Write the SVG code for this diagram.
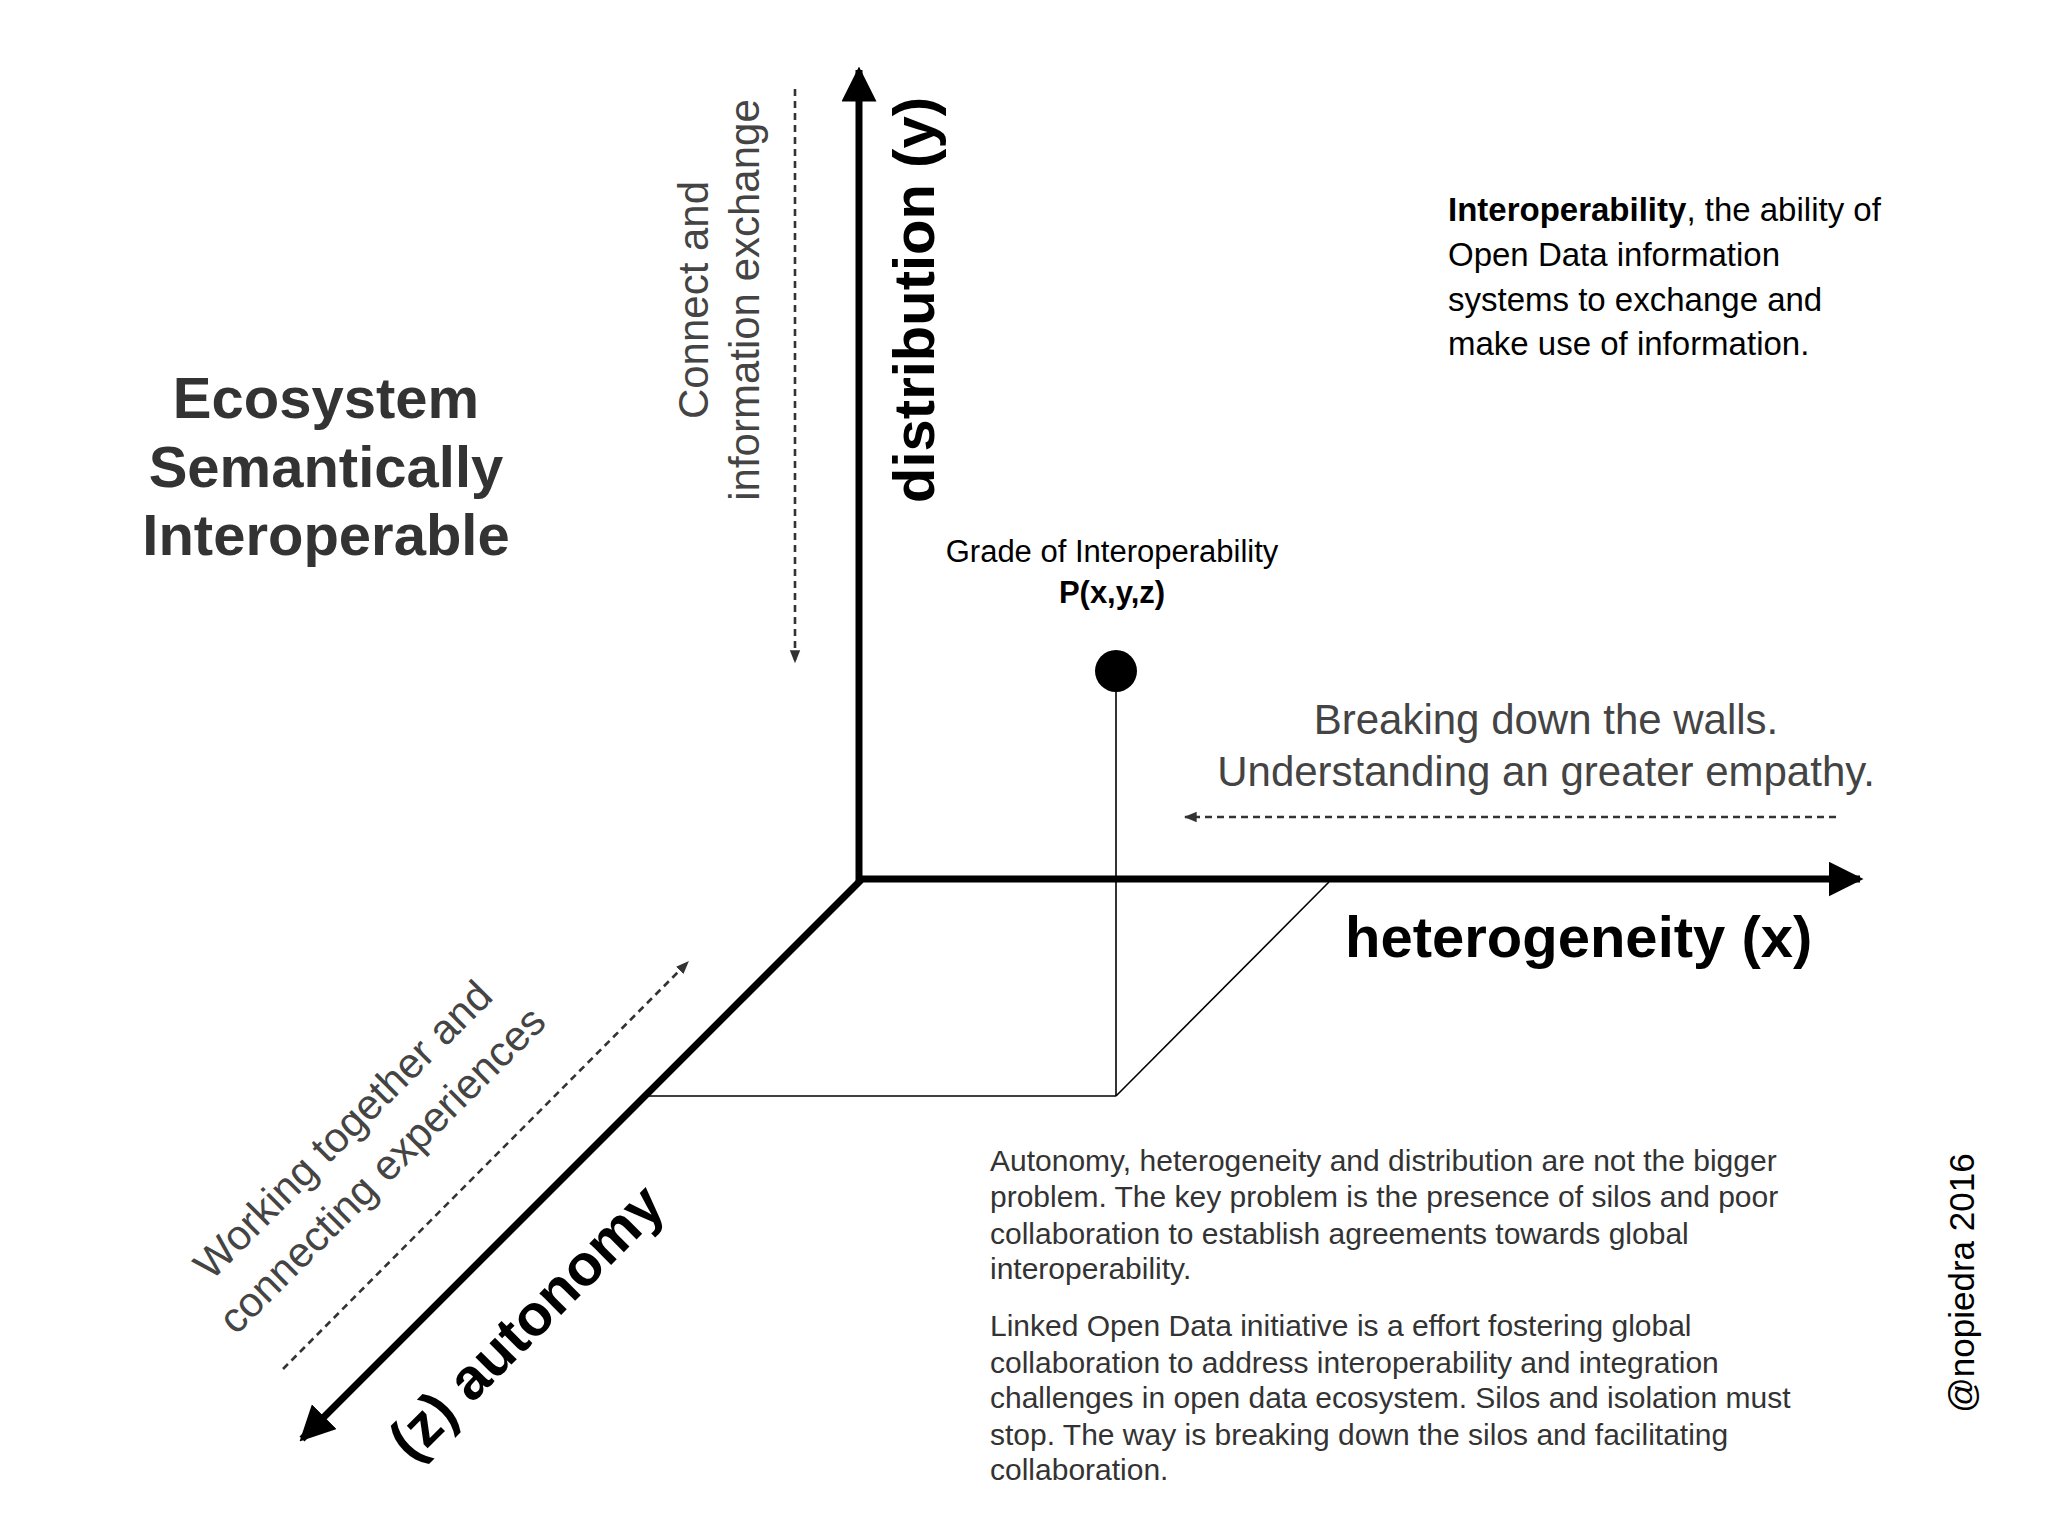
<svg xmlns="http://www.w3.org/2000/svg" width="2048" height="1536" viewBox="0 0 2048 1536">
<style>
text{font-family:"Liberation Sans",Arial,sans-serif}
.axis{stroke:#000;stroke-width:7;fill:none}
.thin{stroke:#000;stroke-width:1.6;fill:none}
.dash{stroke:#333;stroke-width:2.6;fill:none;stroke-dasharray:7 5}
.big{font-size:58px;font-weight:bold;fill:#000}
.note{font-size:42px;fill:#444}
.para{font-size:30px;fill:#333}
</style>
<defs>
<marker id="ah" viewBox="0 0 10 10" refX="9" refY="5" markerWidth="5" markerHeight="5" orient="auto" markerUnits="strokeWidth"><path d="M0,0 L10,5 L0,10 z" fill="#000"/></marker>
<marker id="dh" viewBox="0 0 10 10" refX="9" refY="5" markerWidth="5" markerHeight="5" orient="auto" markerUnits="strokeWidth"><path d="M0,1 L10,5 L0,9 z" fill="#333"/></marker>
</defs>
<g id="connectors">
<line class="axis" x1="859" y1="882" x2="859" y2="70" marker-end="url(#ah)"/>
<line class="axis" x1="856" y1="879" x2="1860" y2="879" marker-end="url(#ah)"/>
<line class="axis" x1="861" y1="880" x2="302" y2="1439" marker-end="url(#ah)"/>
<line class="thin" x1="1116" y1="671" x2="1116" y2="1096"/>
<line class="thin" x1="1116" y1="1096" x2="1329" y2="882"/>
<line class="thin" x1="1116" y1="1096" x2="645" y2="1096"/>
<line class="dash" x1="795" y1="89" x2="795" y2="662" marker-end="url(#dh)"/>
<line class="dash" x1="1836" y1="817" x2="1185" y2="817" marker-end="url(#dh)"/>
<line class="dash" x1="283" y1="1369" x2="688" y2="962" marker-end="url(#dh)"/>
</g>
<g id="point">
<circle cx="1116" cy="671" r="21" fill="#000"/>
<text x="1112" y="562" font-size="31" text-anchor="middle" fill="#000">Grade of Interoperability</text>
<text x="1112" y="603" font-size="31" font-weight="bold" text-anchor="middle" fill="#000">P(x,y,z)</text>
</g>
<g id="title">
<text font-size="58" font-weight="bold" fill="#333" text-anchor="middle"><tspan x="326" y="418">Ecosystem</tspan><tspan x="326" y="487">Semantically</tspan><tspan x="326" y="555">Interoperable</tspan></text>
</g>
<g id="y-label">
<text class="big" transform="translate(934,300) rotate(-90)" text-anchor="middle">distribution (y)</text>
<text class="note" transform="translate(708,300) rotate(-90)" text-anchor="middle">Connect and</text>
<text class="note" transform="translate(759,300) rotate(-90)" text-anchor="middle">information exchange</text>
</g>
<g id="x-label">
<text class="big" x="1345" y="957">heterogeneity (x)</text>
<text class="note" x="1546" y="734" text-anchor="middle">Breaking down the walls.</text>
<text class="note" x="1546" y="786" text-anchor="middle">Understanding an greater empathy.</text>
</g>
<g id="z-label">
<text class="big" transform="translate(540,1336) rotate(-45)" text-anchor="middle">(z) autonomy</text>
<text class="note" transform="translate(353,1140) rotate(-45)" text-anchor="middle">Working together and</text>
<text class="note" transform="translate(392,1180) rotate(-45)" text-anchor="middle">connecting experiences</text>
</g>
<g id="definition">
<text font-size="33" fill="#000"><tspan x="1448" y="221"><tspan font-weight="bold">Interoperability</tspan>, the ability of</tspan><tspan x="1448" y="266">Open Data information</tspan><tspan x="1448" y="311">systems to exchange and</tspan><tspan x="1448" y="355">make use of information.</tspan></text>
</g>
<g id="paragraph">
<text class="para"><tspan x="990" y="1171">Autonomy, heterogeneity and distribution are not the bigger</tspan><tspan x="990" y="1207">problem. The key problem is the presence of silos and poor</tspan><tspan x="990" y="1244">collaboration to establish agreements towards global</tspan><tspan x="990" y="1279">interoperability.</tspan></text>
<text class="para"><tspan x="990" y="1336">Linked Open Data initiative is a effort fostering global</tspan><tspan x="990" y="1373">collaboration to address interoperability and integration</tspan><tspan x="990" y="1408">challenges in open data ecosystem. Silos and isolation must</tspan><tspan x="990" y="1445">stop. The way is breaking down the silos and facilitating</tspan><tspan x="990" y="1480">collaboration.</tspan></text>
</g>
<g id="credit">
<text transform="translate(1974,1283) rotate(-90)" font-size="35" fill="#000" text-anchor="middle">@nopiedra 2016</text>
</g>
</svg>
